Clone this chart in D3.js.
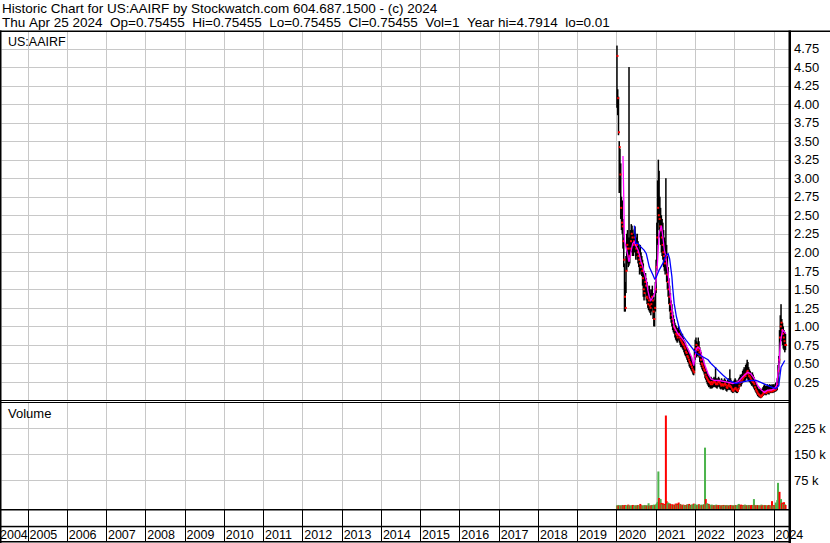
<!DOCTYPE html>
<html><head><meta charset="utf-8">
<script src="https://cdnjs.cloudflare.com/ajax/libs/d3/7.8.5/d3.min.js"></script>
<style>
html,body{margin:0;padding:0;background:#fff;}
svg{display:block;font-family:"Liberation Sans",Arial,sans-serif;}
</style></head><body>
<svg id="chart" width="830" height="543"></svg>
<script>
// ---------------- DATA ----------------
const titleLine1 = "Historic Chart for US:AAIRF by Stockwatch.com 604.687.1500 - (c) 2024";
const titleLine2 = "Thu Apr 25 2024  Op=0.75455  Hi=0.75455  Lo=0.75455  Cl=0.75455  Vol=1  Year hi=4.7914  lo=0.01";
const symbolLabel = "US:AAIRF";
const volumeLabel = "Volume";
const years = [2004,2005,2006,2007,2008,2009,2010,2011,2012,2013,2014,2015,2016,2017,2018,2019,2020,2021,2022,2023,2024];
const priceTicks = [0.25,0.5,0.75,1,1.25,1.5,1.75,2,2.25,2.5,2.75,3,3.25,3.5,3.75,4,4.25,4.5,4.75];
const volTicks = [75,150,225];            // thousands
const volTickLabels = ["75 k","150 k","225 k"];
const firstWeek = "2020-01-06";           // weekly bars, one per week from this date

const highs = [
4.79,4.20,4.10,3.50,3.40,3.20,2.75,2.70,2.45,2.20,
1.85,1.60,1.95,2.25,2.30,2.20,4.50,2.20,2.30,2.38,
2.36,2.30,2.25,2.32,2.35,2.25,2.20,2.25,2.15,2.10,
2.05,2.10,2.00,1.95,1.90,1.85,1.75,1.70,1.72,1.65,
1.60,1.55,1.50,1.55,1.50,1.45,1.50,1.55,1.45,1.40,
1.35,1.60,1.90,2.40,2.97,3.25,3.10,2.75,2.60,2.50,
2.45,2.40,2.30,2.20,2.15,3.00,2.10,1.95,1.80,1.65,
1.55,1.45,1.35,1.30,1.20,1.15,1.10,1.05,1.02,1.00,
0.98,0.95,1.00,0.95,0.92,0.90,0.88,0.90,0.85,0.82,
0.80,0.78,0.75,0.72,0.70,0.68,0.65,0.62,0.60,0.58,
0.55,0.52,0.50,0.70,0.82,0.85,0.80,0.78,0.85,0.80,
0.72,0.68,0.65,0.60,0.58,0.55,0.50,0.45,0.42,0.40,
0.38,0.35,0.33,0.32,0.30,0.32,0.30,0.28,0.30,0.32,
0.30,0.45,0.30,0.28,0.30,0.32,0.30,0.28,0.27,0.30,
0.28,0.26,0.28,0.30,0.28,0.26,0.25,0.28,0.30,0.28,
0.42,0.30,0.27,0.25,0.24,0.26,0.28,0.30,0.28,0.26,
0.25,0.28,0.30,0.32,0.35,0.33,0.36,0.40,0.42,0.45,
0.42,0.48,0.50,0.55,0.52,0.45,0.42,0.40,0.38,0.36,
0.38,0.35,0.32,0.28,0.25,0.22,0.20,0.18,0.16,0.15,
0.16,0.14,0.15,0.16,0.18,0.20,0.22,0.20,0.19,0.20,
0.22,0.21,0.20,0.22,0.21,0.20,0.22,0.21,0.22,0.20,
0.22,0.24,0.25,0.30,0.48,0.60,0.95,1.15,1.30,1.10,
1.05,1.00,0.95,0.92,0.90];
const lows = [
3.95,3.85,3.58,2.80,2.90,2.45,2.30,2.25,2.05,1.80,
1.20,1.20,1.45,1.75,1.85,1.80,1.82,1.85,1.95,2.00,
2.05,1.95,1.95,2.00,2.00,1.90,1.95,1.90,1.85,1.80,
1.70,1.75,1.70,1.68,1.55,1.40,1.35,1.40,1.45,1.35,
1.30,1.25,1.22,1.20,1.18,1.15,1.20,1.25,1.10,1.00,
1.00,1.20,1.45,1.75,2.10,2.40,2.30,2.20,2.10,2.00,
1.95,1.90,1.80,1.75,1.70,1.75,1.60,1.50,1.40,1.30,
1.20,1.10,1.05,1.00,0.95,0.92,0.90,0.85,0.82,0.80,
0.78,0.80,0.82,0.78,0.75,0.72,0.72,0.70,0.68,0.65,
0.62,0.60,0.58,0.55,0.52,0.50,0.46,0.44,0.42,0.40,
0.38,0.35,0.34,0.40,0.55,0.60,0.58,0.60,0.62,0.58,
0.52,0.48,0.45,0.42,0.40,0.38,0.35,0.30,0.28,0.25,
0.22,0.20,0.18,0.18,0.16,0.18,0.16,0.17,0.18,0.20,
0.18,0.18,0.17,0.16,0.18,0.19,0.18,0.16,0.15,0.16,
0.15,0.14,0.15,0.16,0.15,0.13,0.12,0.14,0.15,0.14,
0.15,0.14,0.12,0.11,0.10,0.11,0.12,0.12,0.11,0.10,
0.10,0.12,0.15,0.18,0.20,0.19,0.22,0.24,0.25,0.26,
0.25,0.28,0.30,0.30,0.28,0.26,0.25,0.24,0.22,0.20,
0.20,0.18,0.16,0.14,0.12,0.10,0.08,0.06,0.05,0.04,
0.04,0.03,0.04,0.05,0.06,0.07,0.08,0.08,0.07,0.08,
0.09,0.09,0.08,0.10,0.10,0.10,0.11,0.10,0.11,0.11,
0.12,0.12,0.13,0.14,0.20,0.35,0.50,0.80,0.85,0.80,
0.75,0.70,0.68,0.65,0.68];
const closes = [
4.65,4.08,3.62,3.42,3.05,2.60,2.40,2.35,2.15,1.90,
1.40,1.25,1.75,2.10,2.05,1.90,1.95,2.05,2.15,2.25,
2.20,2.10,2.15,2.20,2.10,2.05,2.10,2.00,1.95,1.90,
1.85,1.80,1.85,1.75,1.65,1.50,1.45,1.60,1.55,1.40,
1.38,1.30,1.35,1.28,1.25,1.30,1.40,1.35,1.20,1.10,
1.25,1.50,1.80,2.20,2.60,2.50,2.45,2.35,2.30,2.20,
2.10,2.00,1.95,1.85,1.90,1.95,1.70,1.60,1.50,1.40,
1.30,1.20,1.15,1.10,1.05,1.00,0.98,0.95,0.90,0.88,
0.85,0.88,0.90,0.85,0.82,0.80,0.78,0.76,0.75,0.72,
0.70,0.66,0.64,0.60,0.58,0.55,0.52,0.50,0.48,0.45,
0.42,0.40,0.38,0.60,0.70,0.75,0.70,0.68,0.72,0.65,
0.60,0.55,0.50,0.48,0.45,0.42,0.40,0.35,0.32,0.30,
0.28,0.26,0.25,0.24,0.22,0.25,0.22,0.24,0.25,0.26,
0.24,0.22,0.23,0.22,0.25,0.26,0.24,0.22,0.20,0.22,
0.21,0.20,0.22,0.23,0.21,0.18,0.17,0.20,0.22,0.19,
0.20,0.18,0.16,0.14,0.13,0.15,0.16,0.17,0.15,0.14,
0.13,0.16,0.20,0.24,0.26,0.25,0.28,0.30,0.32,0.35,
0.33,0.36,0.38,0.40,0.36,0.33,0.32,0.30,0.28,0.26,
0.25,0.24,0.22,0.18,0.15,0.13,0.11,0.09,0.08,0.07,
0.06,0.05,0.07,0.08,0.10,0.11,0.12,0.11,0.10,0.12,
0.13,0.12,0.12,0.14,0.13,0.12,0.14,0.13,0.15,0.14,
0.15,0.16,0.18,0.22,0.40,0.55,0.85,1.00,1.05,0.95,
0.90,0.85,0.80,0.75,0.75];
// weekly volume, thousands of shares
const volumes = [
2,1,3,1,2,1,1,3,2,1,
2,3,1,2,1,4,2,1,1,2,
1,3,2,1,1,2,1,3,2,1,
1,6,2,1,1,2,1,3,1,2,
1,2,8,1,2,1,3,2,1,4,
2,3,5,8,12,100,23,6,20,9,
5,8,4,6,3,262,14,7,10,5,
8,6,4,3,5,3,2,4,7,5,
7,3,10,5,6,4,3,2,4,3,
2,3,2,4,5,3,6,2,3,2,
5,3,7,4,6,3,2,4,3,5,
3,2,4,2,3,5,4,169,20,6,
8,3,6,4,2,3,4,2,3,2,
3,2,4,2,1,2,3,2,1,2,
2,1,3,2,1,2,3,1,2,1,
2,3,1,2,1,2,1,3,2,1,
2,4,6,3,2,4,2,1,3,2,
4,2,3,1,2,3,2,1,2,3,
2,3,20,3,2,1,3,2,1,2,
1,2,4,1,2,1,3,2,1,2,
2,1,3,2,1,2,14,1,3,2,
3,10,4,17,67,8,41,12,20,8,
10,6,11,5,3];
// g = up volume (green), r = down volume (red)
const volColors = [
"grgrggrgrg","rrgggrgrgg","grrgggrgrg","grrgrgggrg","rggrgrgrgg",
"grggggrrgr","grgrgrrggr","grrgrrgrrg","rgrrgrgrrg","grgrggrgrg",
"ggrgggrggr","grgrggrgrg","ggrgrggrgr","grgrgrrgrg","rgrggrgrgr",
"grrgrgrgrg","gggrgrrgrg","grgrggrgrr","rggrgrgrrg","grgrrggrrg",
"grrgrgrgrg","rgggggrrgr","rgrgr"];
// short moving average (magenta) : week index / value
const maShortWeeks = [8,9,10,12,14,16,19,21,23,25,28,30,32,34,36,39,41,43,45,48,50,52,54,56,59,61,63,65,68,70,72,74,76,81,85,90,94,99,102,105,107,110,112,116,121,125,130,136,145,154,161,167,174,178,183,187,192,196,200,205,209,212,215,217,220,223,224];
const maShortVals = [3.30,2.75,2.15,2.07,1.98,1.87,2.03,2.12,2.14,2.09,2.03,1.96,1.87,1.82,1.73,1.62,1.49,1.40,1.35,1.40,1.44,1.62,1.89,2.25,2.36,2.21,2.03,1.94,1.71,1.49,1.31,1.13,0.99,0.90,0.86,0.79,0.70,0.59,0.47,0.68,0.72,0.70,0.63,0.50,0.36,0.29,0.27,0.27,0.25,0.23,0.25,0.32,0.38,0.36,0.29,0.20,0.14,0.11,0.14,0.14,0.16,0.20,0.45,0.77,0.95,0.92,0.90];
// long moving average (blue)
const maLongWeeks = [23,25,28,32,36,39,43,48,50,52,56,61,65,68,70,73,74,76,79,83,87,92,99,105,110,114,121,125,132,141,149,158,167,176,185,194,203,211,215,218,223];
const maLongVals = [2.36,2.12,2.12,2.07,2.03,1.98,1.80,1.69,1.64,1.66,1.76,1.85,1.96,1.98,1.91,1.67,1.53,1.31,1.13,0.97,0.88,0.81,0.72,0.64,0.61,0.59,0.55,0.50,0.43,0.34,0.27,0.23,0.25,0.27,0.27,0.23,0.19,0.16,0.20,0.45,0.54];

// ---------------- BUILD ----------------
const W = 830, H = 543;
const plotL = 1.5, plotR = 789;
const priceTop = 31, priceBot = 400;
const volTop = 402, volBot = 509;

const DAY = 864e5;
const week0 = Date.parse(firstWeek + "T00:00:00Z");
const weekDate = i => new Date(week0 + i * 7 * DAY);
const colorStr = volColors.join("");
const bars = highs.map((h, i) => ({date: weekDate(i), h, l: lows[i], c: closes[i], v: volumes[i], up: colorStr[i] === "g"}));
const maShort = maShortWeeks.map((w, i) => ({date: weekDate(w), v: maShortVals[i]}));
const maLong = maLongWeeks.map((w, i) => ({date: weekDate(w), v: maLongVals[i]}));

const x = d3.scaleUtc()
  .domain([new Date(Date.UTC(2005,0,1)), new Date(Date.UTC(2024,0,1))])
  .range([27.5, 773.5]);
const y = d3.scaleLinear().domain([0, 5]).range([400.5, 30]);
const yv = d3.scaleLinear().domain([0, 225]).range([506, 428.3]);

const svg = d3.select("#chart");
svg.append("rect").attr("width", W).attr("height", H).attr("fill", "#fff");

const yearX = yr => Math.round(x(new Date(Date.UTC(yr,0,1)))) + 0.5;
const gridYears = years.filter(yr => x(new Date(Date.UTC(yr,0,1))) > plotL);

// grid
const grid = svg.append("g").attr("stroke", "#c8c8c8").attr("stroke-width", 1);
grid.selectAll("line.vp").data(gridYears).join("line")
  .attr("x1", yearX).attr("x2", yearX).attr("y1", priceTop).attr("y2", priceBot);
grid.selectAll("line.vv").data(gridYears).join("line").attr("class","vv")
  .attr("x1", yearX).attr("x2", yearX).attr("y1", volTop).attr("y2", volBot);
grid.selectAll("line.hp").data(priceTicks).join("line").attr("class","hp")
  .attr("x1", plotL).attr("x2", plotR)
  .attr("y1", d => Math.round(y(d)) + 0.5).attr("y2", d => Math.round(y(d)) + 0.5);
grid.selectAll("line.hv").data(volTicks).join("line").attr("class","hv")
  .attr("x1", plotL).attr("x2", plotR)
  .attr("y1", d => Math.round(yv(d)) + 0.5).attr("y2", d => Math.round(yv(d)) + 0.5);

// clip paths
svg.append("clipPath").attr("id","cp").append("rect").attr("x", plotL).attr("y", priceTop).attr("width", plotR - plotL).attr("height", priceBot - priceTop);
svg.append("clipPath").attr("id","cv").append("rect").attr("x", plotL).attr("y", volTop).attr("width", plotR - plotL).attr("height", volBot - volTop);

// price panel
const pg = svg.append("g").attr("clip-path", "url(#cp)");
pg.selectAll("rect.hl").data(bars).join("rect").attr("class","hl")
  .attr("x", d => x(d.date) - 0.75).attr("width", 1.5)
  .attr("y", d => y(d.h)).attr("height", d => Math.max(1, y(d.l) - y(d.h)))
  .attr("fill", "#000");
pg.selectAll("rect.cl").data(bars).join("rect").attr("class","cl")
  .attr("x", d => x(d.date) - 0.5).attr("width", 2)
  .attr("y", d => y(d.c) - 1).attr("height", 2)
  .attr("fill", "#ff0000");
const line = d3.line().x(d => x(d.date)).y(d => y(d.v));
pg.append("path").datum(maShort).attr("d", line).attr("fill","none").attr("stroke","#ff00ff").attr("stroke-width",1.3);
pg.append("path").datum(maLong).attr("d", line).attr("fill","none").attr("stroke","#0000ff").attr("stroke-width",1.3);

// volume panel
const vg = svg.append("g").attr("clip-path", "url(#cv)");
vg.selectAll("rect.vb").data(bars).join("rect").attr("class","vb")
  .attr("x", d => x(d.date) - 1).attr("width", 2)
  .attr("y", d => yv(d.v)).attr("height", d => volBot - yv(d.v))
  .attr("fill", d => d.up ? "#4cb44c" : "#ff0000");

// frame lines
const frame = svg.append("g").attr("fill", "#000");
frame.append("rect").attr("x", 0).attr("y", 30.5).attr("width", W).attr("height", 1.5);
frame.append("rect").attr("x", 0).attr("y", 30.5).attr("width", 1.5).attr("height", H - 30.5);
frame.append("rect").attr("x", 0).attr("y", 400).attr("width", plotR).attr("height", 1);
frame.append("rect").attr("x", 0).attr("y", 402).attr("width", plotR).attr("height", 1);
frame.append("rect").attr("x", 0).attr("y", 509).attr("width", plotR).attr("height", 1.5);
frame.append("rect").attr("x", 0).attr("y", 525.8).attr("width", plotR).attr("height", 1.5);
frame.append("rect").attr("x", 0).attr("y", 541).attr("width", plotR).attr("height", 1.5);
frame.append("rect").attr("x", 788.5).attr("y", 30.5).attr("width", 2.5).attr("height", H - 30.5);
// year separators in the date rows
svg.append("g").attr("stroke", "#000").attr("stroke-width", 1)
  .selectAll("line").data(gridYears).join("line")
  .attr("x1", yearX).attr("x2", yearX).attr("y1", 510).attr("y2", 541);

// texts
const nb = s => s.replace(/ /g, "\u00a0");
const txt = svg.append("g").attr("fill", "#000");
txt.append("text").attr("x", 2).attr("y", 12.5).attr("font-size", 13.5).text(titleLine1);
txt.append("text").attr("x", 2).attr("y", 26.5).attr("font-size", 13.5).text(nb(titleLine2));
txt.append("text").attr("x", 8).attr("y", 45.5).attr("font-size", 12.5).text(symbolLabel);
txt.append("text").attr("x", 8).attr("y", 418).attr("font-size", 13).text(volumeLabel);
txt.selectAll("text.pt").data(priceTicks).join("text").attr("class","pt")
  .attr("x", 794).attr("y", d => y(d)).attr("dy", "0.36em").attr("font-size", 13)
  .text(d => d.toFixed(2));
txt.selectAll("text.vt").data(volTicks).join("text").attr("class","vt")
  .attr("x", 794).attr("y", d => yv(d)).attr("dy", "0.36em").attr("font-size", 13)
  .text((d, i) => volTickLabels[i]);
txt.selectAll("text.yr").data(years).join("text").attr("class","yr")
  .attr("x", yr => Math.max(x(new Date(Date.UTC(yr,0,1))) + 2, 0)).attr("y", 538.5).attr("font-size", 12.5)
  .text(yr => yr);
</script>
</body></html>
